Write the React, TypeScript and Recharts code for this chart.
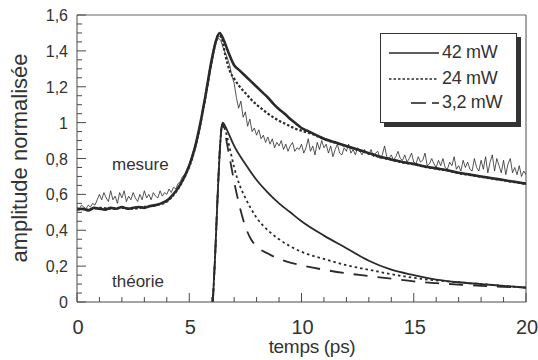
import React from "react";
import { LineChart, Line, XAxis, YAxis, ReferenceLine } from "recharts";

const INK = "#2a2a2a";
const AXIS = "#4a4a4a";
const FONT = "'Liberation Sans', Arial, Helvetica, sans-serif";

// mesure, 42 mW (trait plein épais) : [t (ps), amplitude]
const MES_42: [number, number][] = [
  [0, 0.515], [0.25, 0.52], [0.5, 0.51], [0.75, 0.525], [1, 0.52], [1.25, 0.515], [1.5, 0.525],
  [1.75, 0.52], [2, 0.53], [2.25, 0.52], [2.5, 0.525], [2.75, 0.53], [3, 0.525], [3.25, 0.535],
  [3.5, 0.54], [3.75, 0.55], [4, 0.565], [4.25, 0.595], [4.5, 0.635], [4.75, 0.69], [5, 0.76],
  [5.25, 0.86], [5.5, 1.0], [5.75, 1.17], [6, 1.35], [6.2, 1.46], [6.35, 1.5], [6.5, 1.47],
  [6.75, 1.39], [7, 1.32], [7.25, 1.29], [7.5, 1.26], [7.75, 1.23], [8, 1.2], [8.25, 1.17],
  [8.5, 1.14], [8.75, 1.105], [9, 1.075], [9.25, 1.05], [9.5, 1.02], [9.75, 0.995], [10, 0.97],
  [10.25, 0.955], [10.5, 0.94], [10.75, 0.925], [11, 0.91], [11.5, 0.89], [12, 0.87], [12.5, 0.85],
  [13, 0.83], [13.5, 0.81], [14, 0.795], [14.5, 0.78], [15, 0.77], [15.5, 0.755], [16, 0.745],
  [16.5, 0.735], [17, 0.72], [17.5, 0.71], [18, 0.7], [18.5, 0.69], [19, 0.68], [19.5, 0.67], [20, 0.66],
];

// mesure, 24 mW (pointillé)
const MES_24: [number, number][] = [
  [0, 0.52], [0.5, 0.515], [1, 0.525], [1.5, 0.52], [2, 0.525], [2.5, 0.52], [3, 0.53], [3.5, 0.54],
  [4, 0.56], [4.25, 0.59], [4.5, 0.63], [4.75, 0.685], [5, 0.755], [5.25, 0.855], [5.5, 0.995],
  [5.75, 1.165], [6, 1.345], [6.2, 1.46], [6.3, 1.49], [6.45, 1.47], [6.6, 1.38], [6.8, 1.29],
  [7, 1.245], [7.25, 1.2], [7.5, 1.165], [7.75, 1.13], [8, 1.1], [8.25, 1.075], [8.5, 1.05],
  [8.75, 1.03], [9, 1.01], [9.25, 0.995], [9.5, 0.98], [9.75, 0.965], [10, 0.955], [10.25, 0.945],
  [10.5, 0.935], [10.75, 0.922], [11, 0.908], [11.5, 0.888], [12, 0.868], [12.5, 0.848], [13, 0.828],
  [13.5, 0.808], [14, 0.793], [14.5, 0.778], [15, 0.768], [15.5, 0.753], [16, 0.743], [16.5, 0.733],
  [17, 0.718], [17.5, 0.708], [18, 0.698], [18.5, 0.688], [19, 0.678], [19.5, 0.668], [20, 0.658],
];

// mesure, 3,2 mW (trait fin bruité), un point tous les 0,1 ps
const MES_32: number[] = [
  0.53, 0.52, 0.54, 0.53, 0.52, 0.54, 0.53, 0.55, 0.54, 0.57,
  0.6, 0.57, 0.61, 0.58, 0.56, 0.62, 0.57, 0.59, 0.55, 0.61,
  0.58, 0.62, 0.56, 0.59, 0.57, 0.61, 0.58, 0.56, 0.6, 0.57,
  0.62, 0.58, 0.6, 0.57, 0.61, 0.59, 0.58, 0.62, 0.59, 0.61,
  0.6, 0.63, 0.61, 0.64, 0.63, 0.66, 0.67, 0.7, 0.71, 0.74,
  0.77, 0.81, 0.85, 0.89, 0.94, 0.99, 1.06, 1.12, 1.19, 1.26,
  1.33, 1.4, 1.45, 1.47, 1.46, 1.42, 1.39, 1.36, 1.32, 1.26,
  1.22, 1.14, 1.08, 1.12, 1.03, 1.06, 0.98, 1.02, 0.95, 0.97,
  0.93, 0.96, 0.91, 0.93, 0.89, 0.92, 0.88, 0.91, 0.86, 0.89,
  0.87, 0.9, 0.85, 0.88, 0.84, 0.87, 0.89, 0.84, 0.86, 0.85,
  0.88, 0.83, 0.86, 0.91, 0.84, 0.87, 0.82, 0.89, 0.85, 0.9,
  0.86, 0.88, 0.83, 0.87, 0.81, 0.85, 0.88, 0.83, 0.82, 0.86,
  0.84, 0.88, 0.83, 0.85, 0.82, 0.86, 0.84, 0.82, 0.85, 0.83,
  0.82, 0.85, 0.81, 0.83, 0.84, 0.8, 0.82, 0.87, 0.81, 0.8,
  0.82, 0.79, 0.81, 0.84, 0.8, 0.79, 0.82, 0.78, 0.8, 0.83,
  0.78, 0.77, 0.81, 0.78, 0.79, 0.83, 0.76, 0.77, 0.8, 0.77,
  0.75, 0.79, 0.76, 0.8, 0.75, 0.74, 0.78, 0.76, 0.81, 0.74,
  0.76, 0.73, 0.79, 0.75, 0.78, 0.74, 0.73, 0.8, 0.75, 0.73,
  0.79, 0.74, 0.81, 0.72, 0.78, 0.82, 0.73, 0.8, 0.76, 0.72,
  0.79, 0.71, 0.77, 0.8, 0.72, 0.75, 0.71, 0.76, 0.7, 0.73,
  0.71,
];

// théorie
const TH_42: [number, number][] = [
  [6.05, 0], [6.15, 0.25], [6.25, 0.55], [6.35, 0.82], [6.45, 0.98], [6.5, 1.0], [6.6, 0.98],
  [6.75, 0.94], [7, 0.87], [7.5, 0.77], [8, 0.68], [8.5, 0.61], [9, 0.55], [9.5, 0.5], [10, 0.45],
  [11, 0.37], [12, 0.3], [13, 0.23], [14, 0.18], [15, 0.15], [16, 0.125], [17, 0.11], [18, 0.1],
  [19, 0.09], [20, 0.08],
];
const TH_24: [number, number][] = [
  [6.05, 0], [6.15, 0.25], [6.25, 0.55], [6.35, 0.82], [6.45, 0.98], [6.5, 0.99], [6.6, 0.96],
  [6.8, 0.86], [7, 0.75], [7.25, 0.65], [7.5, 0.58], [8, 0.47], [8.5, 0.4], [9, 0.35], [9.5, 0.31],
  [10, 0.28], [11, 0.24], [12, 0.205], [13, 0.18], [14, 0.155], [15, 0.135], [16, 0.12], [17, 0.11],
  [18, 0.1], [19, 0.09], [20, 0.08],
];
const TH_3: [number, number][] = [
  [6.05, 0], [6.15, 0.25], [6.25, 0.55], [6.35, 0.82], [6.45, 0.98], [6.5, 0.99], [6.55, 0.97],
  [6.7, 0.87], [6.85, 0.77], [7, 0.67], [7.25, 0.53], [7.5, 0.42], [7.75, 0.35], [8, 0.31],
  [8.5, 0.27], [9, 0.24], [9.5, 0.22], [10, 0.205], [11, 0.18], [12, 0.16], [13, 0.145], [14, 0.13],
  [15, 0.115], [16, 0.105], [17, 0.097], [18, 0.09], [19, 0.085], [20, 0.08],
];

const X_TICKS = Array.from({ length: 21 }, (_, i) => i);
const X_LABELS = [0, 5, 10, 15, 20];
const Y_TICKS = Array.from({ length: 33 }, (_, i) => Math.round(i * 5) / 100);
const Y_LABELS = [0, 0.2, 0.4, 0.6, 0.8, 1, 1.2, 1.4, 1.6];

const pairs = (arr: [number, number][]) => arr.map(([t, v]) => ({ t, v }));
const mes32 = MES_32.map((v, i) => ({ t: i / 10, v }));

const fr = (v: number) => String(v).replace(".", ",");

function XTick({ x, y, payload }: any) {
  const major = X_LABELS.includes(payload.value);
  return (
    <g>
      <line x1={x} x2={x} y1={y} y2={y - (major ? 9 : 5)} stroke={AXIS} strokeWidth={1} />
      {major && (
        <text x={x + 1} y={y + 32} textAnchor="middle" fontSize={20} fill="#333" fontFamily={FONT}>
          {payload.value}
        </text>
      )}
    </g>
  );
}

function YTick({ x, y, payload }: any) {
  const major = Y_LABELS.some((l) => Math.abs(l - payload.value) < 1e-6);
  return (
    <g>
      <line x1={x} x2={x + (major ? 9 : 5)} y1={y} y2={y} stroke={AXIS} strokeWidth={1} />
      {major && (
        <text x={x - 9} y={y + 6} textAnchor="end" fontSize={16} fill="#333" fontFamily={FONT}>
          {fr(payload.value)}
        </text>
      )}
    </g>
  );
}

function Sample({ dash }: { dash?: string }) {
  return (
    <svg width={52} height={10} style={{ position: "absolute", left: 8, top: 0 }}>
      {dash === "dash" ? (
        <>
          <line x1={22} x2={37} y1={5} y2={5} stroke={INK} strokeWidth={1.6} />
          <line x1={43} x2={50} y1={5} y2={5} stroke={INK} strokeWidth={1.6} />
        </>
      ) : (
        <line x1={0} x2={dash ? 48 : 50} y1={5} y2={5} stroke={INK} strokeWidth={1.6} strokeDasharray={dash} />
      )}
    </svg>
  );
}

function LegendBox() {
  const rows = [
    { label: "42 mW", dash: undefined, top: 14 },
    { label: "24 mW", dash: "2.5 2", top: 40 },
    { label: "3,2 mW", dash: "dash", top: 64 },
  ];
  return (
    <div
      style={{
        position: "absolute",
        left: 380,
        top: 33,
        width: 135,
        height: 88,
        background: "#fff",
        border: "1px solid #333",
        boxShadow: "4px 4px 0 #333",
      }}
    >
      {rows.map((r) => (
        <div key={r.label} style={{ position: "absolute", left: 0, top: r.top, width: 135, height: 10 }}>
          <Sample dash={r.dash} />
          <span
            style={{
              position: "absolute",
              left: 61,
              top: -6,
              fontSize: 18,
              lineHeight: "20px",
              color: "#333",
              fontFamily: FONT,
              whiteSpace: "nowrap",
              letterSpacing: -0.3,
            }}
          >
            {r.label}
          </span>
        </div>
      ))}
    </div>
  );
}

export default function App() {
  return (
    <div style={{ position: "absolute", left: 0, top: 0, width: 538, height: 360, background: "#fff", fontFamily: FONT }}>
      <LineChart width={538} height={360} margin={{ top: 15, right: 12, bottom: 0, left: 0 }}>
        <XAxis
          dataKey="t"
          type="number"
          domain={[0, 20]}
          ticks={X_TICKS}
          interval={0}
          height={58}
          tickSize={0}
          tickMargin={0}
          tickLine={false}
          axisLine={{ stroke: AXIS }}
          tick={(p: any) => <XTick {...p} />}
          allowDataOverflow
        />
        <YAxis
          type="number"
          domain={[0, 1.6]}
          ticks={Y_TICKS}
          interval={0}
          width={77}
          tickSize={0}
          tickMargin={0}
          tickLine={false}
          axisLine={{ stroke: AXIS }}
          tick={(p: any) => <YTick {...p} />}
          allowDataOverflow
        />
        <ReferenceLine y={1.6} stroke="#666" strokeWidth={1} />
        <ReferenceLine x={20} stroke={AXIS} strokeWidth={1} />

        <Line data={mes32} dataKey="v" type="linear" stroke={INK} strokeWidth={0.8} dot={false} isAnimationActive={false} />
        <Line data={pairs(MES_24)} dataKey="v" type="monotone" stroke={INK} strokeWidth={2.2} strokeDasharray="2.5 2" dot={false} isAnimationActive={false} />
        <Line data={pairs(MES_42)} dataKey="v" type="monotone" stroke={INK} strokeWidth={2.6} dot={false} isAnimationActive={false} />

        <Line data={pairs(TH_3)} dataKey="v" type="monotone" stroke={INK} strokeWidth={1.8} strokeDasharray="14 10" dot={false} isAnimationActive={false} />
        <Line data={pairs(TH_24)} dataKey="v" type="monotone" stroke={INK} strokeWidth={1.8} strokeDasharray="2.5 3" dot={false} isAnimationActive={false} />
        <Line data={pairs(TH_42)} dataKey="v" type="monotone" stroke={INK} strokeWidth={1.8} dot={false} isAnimationActive={false} />
      </LineChart>

      <svg width={538} height={360} style={{ position: "absolute", left: 0, top: 0, pointerEvents: "none" }}>
        <text transform="translate(27,158) rotate(-90)" textAnchor="middle" fontSize={22} fill="#333" fontFamily={FONT}>
          amplitude normalisée
        </text>
        <text x={312} y={353} textAnchor="middle" fontSize={19} fill="#333" fontFamily={FONT} letterSpacing={-0.3}>
          temps (ps)
        </text>
        <text x={112} y={170} fontSize={17} fill="#333" fontFamily={FONT}>
          mesure
        </text>
        <text x={112} y={287} fontSize={17} fill="#333" fontFamily={FONT}>
          théorie
        </text>
      </svg>
      <LegendBox />
    </div>
  );
}
